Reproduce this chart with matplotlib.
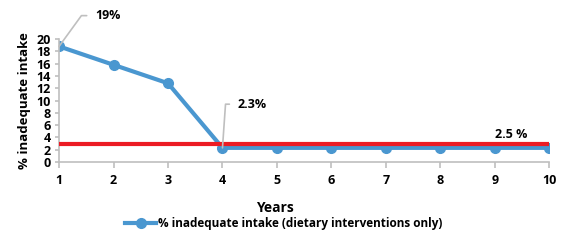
import matplotlib.pyplot as plt

plt.rcParams['font.family'] = ['Open Sans', 'DejaVu Sans']
plt.rcParams['font.weight'] = 'bold'

years = [1, 2, 3, 4, 5, 6, 7, 8, 9, 10]
inadequate = [18.8, 15.8, 12.8, 2.3, 2.3, 2.3, 2.3, 2.3, 2.3, 2.3]
target = 3.0

BLUE = '#4a97d0'
RED = '#ec1c24'
GRAY = '#bfbfbf'

fig = plt.figure(figsize=(5.68, 2.4), dpi=100)
ax = fig.add_axes([0.104, 0.325, 0.863, 0.5125])

ax.plot([years[0], years[-1]], [target, target], color=RED, lw=3, zorder=3)
ax.plot(years, inadequate, color=BLUE, lw=3, marker='o', ms=7,
        label='% inadequate intake (dietary interventions only)', zorder=2)

ax.set_xlim(1, 10)
ax.set_ylim(0, 20)
ax.set_xticks(years)
ax.set_yticks(range(0, 21, 2))
ax.tick_params(labelsize=9, color=GRAY, length=4, width=1.2, pad=5)
ax.tick_params(axis='y', length=3, pad=3)
for s in ['top', 'right']:
    ax.spines[s].set_visible(False)
for s in ['left', 'bottom']:
    ax.spines[s].set_color(GRAY)
    ax.spines[s].set_linewidth(1.2)

ax.set_xlabel('Years', fontsize=10, fontweight='bold')
ax.xaxis.set_label_coords(0.44, -0.32)
ax.set_ylabel('% inadequate intake', fontsize=9.5, fontweight='bold', labelpad=4)

lead = dict(arrowstyle='-', color=GRAY, lw=1.2, shrinkA=4, shrinkB=0)
ax.annotate('19%', xy=(years[0], inadequate[0]), xytext=(1.66, 23.8),
            fontsize=9, fontweight='bold', va='center', ha='left',
            annotation_clip=False,
            arrowprops=dict(lead, connectionstyle='angle,angleA=0,angleB=54,rad=0'))
ax.annotate('2.3%', xy=(years[3], inadequate[3]), xytext=(4.28, 9.4),
            fontsize=9, fontweight='bold', va='center', ha='left',
            arrowprops=dict(lead, connectionstyle='angle,angleA=0,angleB=86,rad=0'))
ax.text(9.3, target + 0.4, '2.5 %', fontsize=9, fontweight='bold',
        ha='center', va='bottom')

fig.legend(loc='center', bbox_to_anchor=(0.5, 0.068), frameon=False,
           fontsize=8.5, handlelength=2.6, handletextpad=0.2)

fig.savefig('out.png', dpi=100)
